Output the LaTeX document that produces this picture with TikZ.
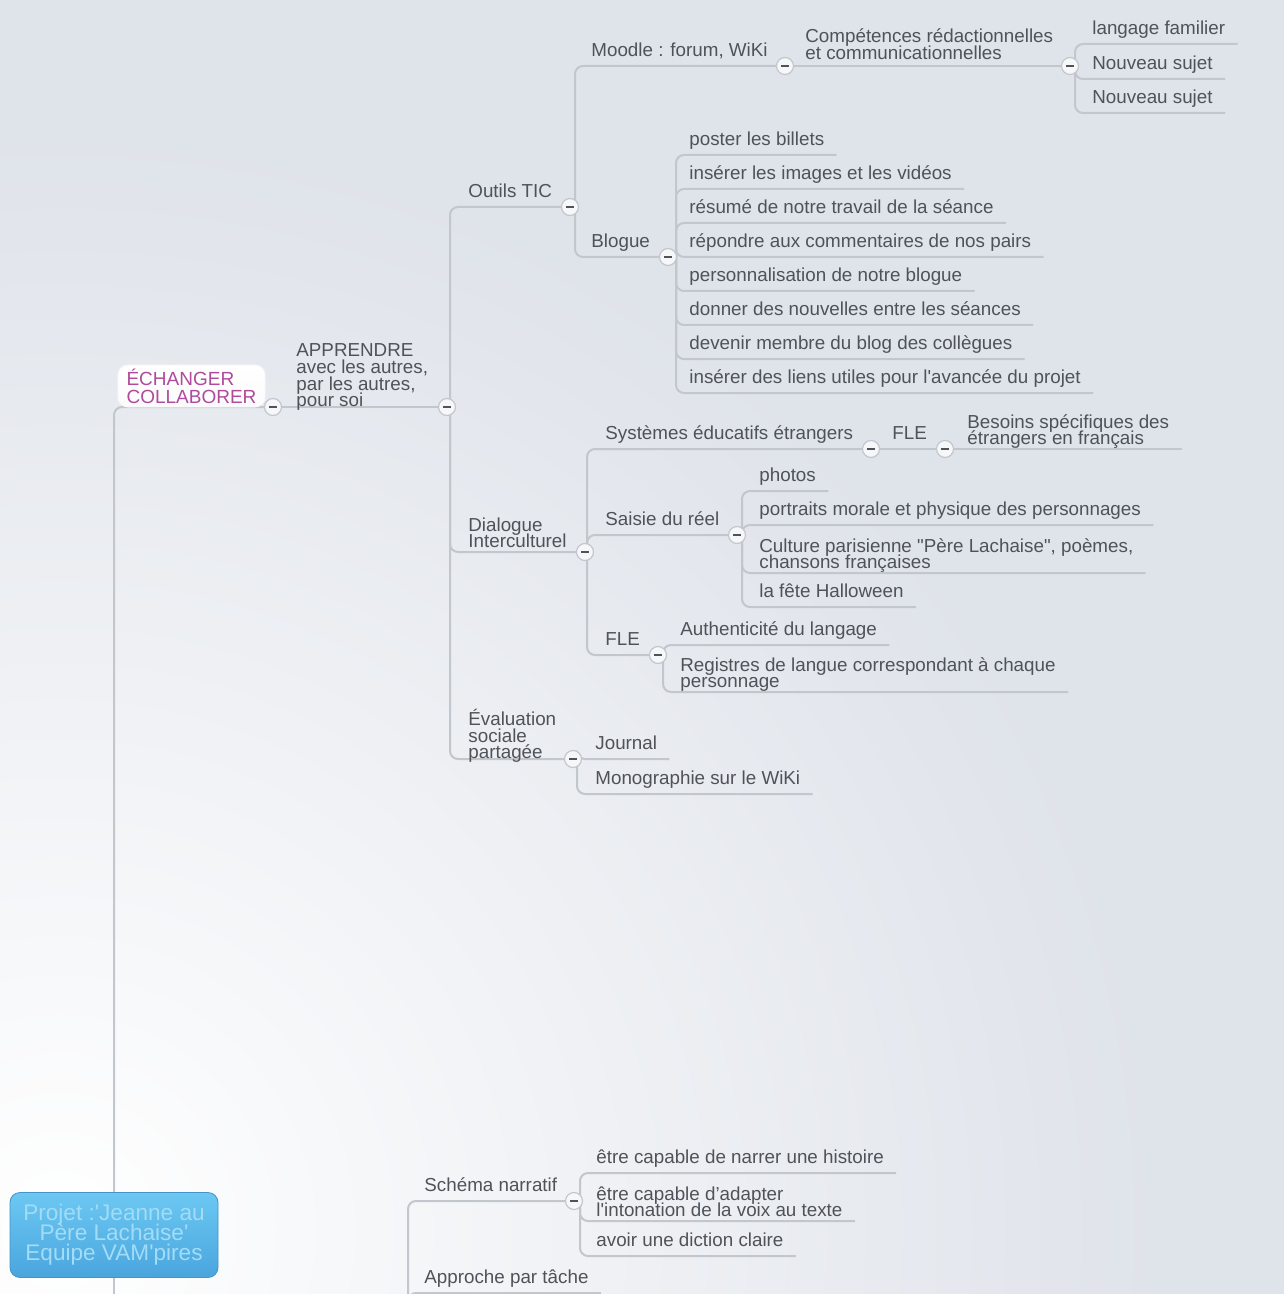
\documentclass[tikz,border=0pt]{standalone}
\usepackage{fontspec}
\setmainfont{Liberation Sans}
\usepackage{xcolor}
\usetikzlibrary{positioning, backgrounds}

\definecolor{fond}{HTML}{DFE3EA}
\definecolor{trait}{HTML}{C2C6CD}
\definecolor{texte}{HTML}{4F5359}
\definecolor{mauve}{HTML}{B04A9C}
\definecolor{bleuhaut}{HTML}{6CC8F2}
\definecolor{bleubas}{HTML}{4AA5DE}
\definecolor{bleutexte}{HTML}{A2DCF6}

\newcommand{\apos}{\textquotesingle}

\begin{document}
\begin{tikzpicture}[x=0.5pt, y=-0.5pt,
        sujet/.style={anchor=south west, inner xsep=6pt, inner ysep=2.5pt, text depth=2pt, align=left, text=texte, font={\fontsize{9.4}{8.3}\selectfont\lineskiplimit=-10pt}},
        multi/.style={sujet, yshift=-2.5pt},
        branche/.style={draw=trait, line width=1pt, rounded corners=4pt},
        bouton/.style={circle, draw=trait, fill=white!70!fond, minimum size=8.5pt, inner sep=0pt, line width=0.6pt,
            path picture={\draw[line width=0.9pt, texte] ([xshift=-1.8pt]path picture bounding box.center) -- ([xshift=1.8pt]path picture bounding box.center);}},
        cadre/.style={rectangle, rounded corners=5pt, draw=white!80!fond, top color=white, bottom color=white!85!fond, minimum width=73.5pt, minimum height=21pt, inner sep=0pt, align=left, text=mauve, font={\fontsize{9.5}{9}\selectfont\lineskiplimit=-10pt}},
        racine/.style={rectangle, rounded corners=5pt, draw=bleubas!90!black, top color=bleuhaut, bottom color=bleubas, minimum width=104pt, minimum height=42.5pt, align=center, text=bleutexte, font={\fontsize{11.3}{10}\selectfont\lineskiplimit=-10pt}}]

    \useasboundingbox (0,0) rectangle (1284,1294);
    \begin{scope}[on background layer]
        \fill[fond] (0,0) rectangle (1284,1294);
        \begin{scope}
            \clip (0,0) rectangle (1284,1294);
            \shade[inner color=white, outer color=fond] (60,1230) circle[radius=550pt];
        \end{scope}
    \end{scope}

    % centre et premier niveau
    \node[racine] (root) at (114,1235) {Projet :\apos Jeanne au\\Père Lachaise\apos\\Equipe VAM\apos pires};
    \node[cadre] (echanger) at (191.5,386) {ÉCHANGER\\COLLABORER};
    \node[multi] (apprendre) at (284,411) {APPRENDRE\\avec les autres,\\par les autres,\\pour soi};

    % Outils TIC
    \node[sujet] (outils) at (456,207) {Outils TIC};
    \node[sujet] (moodle) at (579,66) {Moodle : forum, WiKi};
    \node[multi] (compet) at (793,64) {Compétences rédactionnelles\\et communicationnelles};
    \node[sujet] (langage) at (1080,44) {langage familier};
    \node[sujet] (nouv1) at (1080,79) {Nouveau sujet};
    \node[sujet] (nouv2) at (1080,113) {Nouveau sujet};
    \node[sujet] (blogue) at (579,257) {Blogue};
    \foreach \t [count=\i] in {poster les billets, insérer les images et les vidéos, résumé de notre travail de la séance,
        répondre aux commentaires de nos pairs, personnalisation de notre blogue, donner des nouvelles entre les séances,
        devenir membre du blog des collègues, insérer des liens utiles pour l\apos avancée du projet}
        \node[sujet] (b\i) at (677,121+34*\i) {\t};

    % Dialogue interculturel
    \node[multi] (dialogue) at (456,552) {Dialogue\\Interculturel};
    \node[sujet] (systemes) at (593,449) {Systèmes éducatifs étrangers};
    \node[sujet] (fle1) at (880,449) {FLE};
    \node[multi] (besoins) at (955,449) {Besoins spécifiques des\\étrangers en français};
    \node[sujet] (saisie) at (593,535) {Saisie du réel};
    \node[sujet] (photos) at (747,491) {photos};
    \node[sujet] (portraits) at (747,525) {portraits morale et physique des personnages};
    \node[multi] (culture) at (747,573) {Culture parisienne \textquotedbl Père Lachaise\textquotedbl, poèmes,\\chansons françaises};
    \node[sujet] (halloween) at (747,607) {la fête Halloween};
    \node[sujet] (fle2) at (593,655) {FLE};
    \node[sujet] (authent) at (668,645) {Authenticité du langage};
    \node[multi] (registres) at (668,692) {Registres de langue correspondant à chaque\\personnage};

    % Evaluation
    \node[multi] (evaluation) at (456,763) {Évaluation\\sociale\\partagée};
    \node[sujet] (journal) at (583,759) {Journal};
    \node[sujet] (mono) at (583,794) {Monographie sur le WiKi};

    % branche du bas
    \node[sujet] (schema) at (412,1201) {Schéma narratif};
    \node[sujet] (narrer) at (584,1173) {être capable de narrer une histoire};
    \node[multi] (adapter) at (584,1221) {être capable d’adapter\\l\apos intonation de la voix au texte};
    \node[sujet] (diction) at (584,1256) {avoir une diction claire};
    \node[sujet] (approche) at (412,1293) {Approche par tâche};
    \coordinate (bas) at (114,1300);
    \coordinate (cBas) at (408,1340);

    % boutons
    \node[bouton] (tEch) at (273,407) {};
    \node[bouton] (tApp) at (447,407) {};
    \node[bouton] (tOut) at (570,207) {};
    \node[bouton] (tMoo) at (785,66) {};
    \node[bouton] (tCom) at (1070,66) {};
    \node[bouton] (tBlo) at (668,257) {};
    \node[bouton] (tDia) at (585,552) {};
    \node[bouton] (tSys) at (871,449) {};
    \node[bouton] (tFle) at (945,449) {};
    \node[bouton] (tSai) at (737,535) {};
    \node[bouton] (tFle2) at (658,655) {};
    \node[bouton] (tEva) at (573,759) {};
    \node[bouton] (tSch) at (574,1201) {};

    \begin{scope}[on background layer]
        \draw[branche] (root.center) |- (tEch);
        \draw[branche] (root.center) -- (bas);
        \draw[branche] (tEch) -- (tApp);
        \foreach \n in {tOut,tDia,tEva}
            \draw[branche] ([xshift=1.5pt]tApp.center) |- (\n);
        \draw[branche] ([xshift=2.5pt]tOut.center) |- (tMoo);
        \draw[branche] ([xshift=2.5pt]tOut.center) |- (tBlo);
        \draw[branche] (tMoo) -- (tCom);
        \foreach \n in {langage,nouv1,nouv2}
            \draw[branche] ([xshift=2.5pt]tCom.center) |- (\n.south east);
        \foreach \i in {1,...,8}
            \draw[branche] ([xshift=4pt]tBlo.center) |- (b\i.south east);
        \draw[branche] ([xshift=1pt]tDia.center) |- (tSys);
        \draw[branche] ([xshift=1pt]tDia.center) |- (tSai);
        \draw[branche] ([xshift=1pt]tDia.center) |- (tFle2);
        \draw[branche] (tSys) -- (tFle);
        \draw[branche] (tFle) -- ([yshift=2.5pt]besoins.south east);
        \foreach \n in {photos,portraits,halloween}
            \draw[branche] ([xshift=2.5pt]tSai.center) |- (\n.south east);
        \draw[branche] ([xshift=2.5pt]tSai.center) |- ([yshift=2.5pt]culture.south east);
        \draw[branche] ([xshift=2.5pt]tFle2.center) |- (authent.south east);
        \draw[branche] ([xshift=2.5pt]tFle2.center) |- ([yshift=2.5pt]registres.south east);
        \foreach \n in {journal,mono}
            \draw[branche] ([xshift=2pt]tEva.center) |- (\n.south east);
        \draw[branche] (cBas) |- (tSch);
        \draw[branche] (cBas) |- (approche.south east);
        \draw[branche] ([xshift=3pt]tSch.center) |- (narrer.south east);
        \draw[branche] ([xshift=3pt]tSch.center) |- ([yshift=2.5pt]adapter.south east);
        \draw[branche] ([xshift=3pt]tSch.center) |- (diction.south east);
    \end{scope}
\end{tikzpicture}
\end{document}
